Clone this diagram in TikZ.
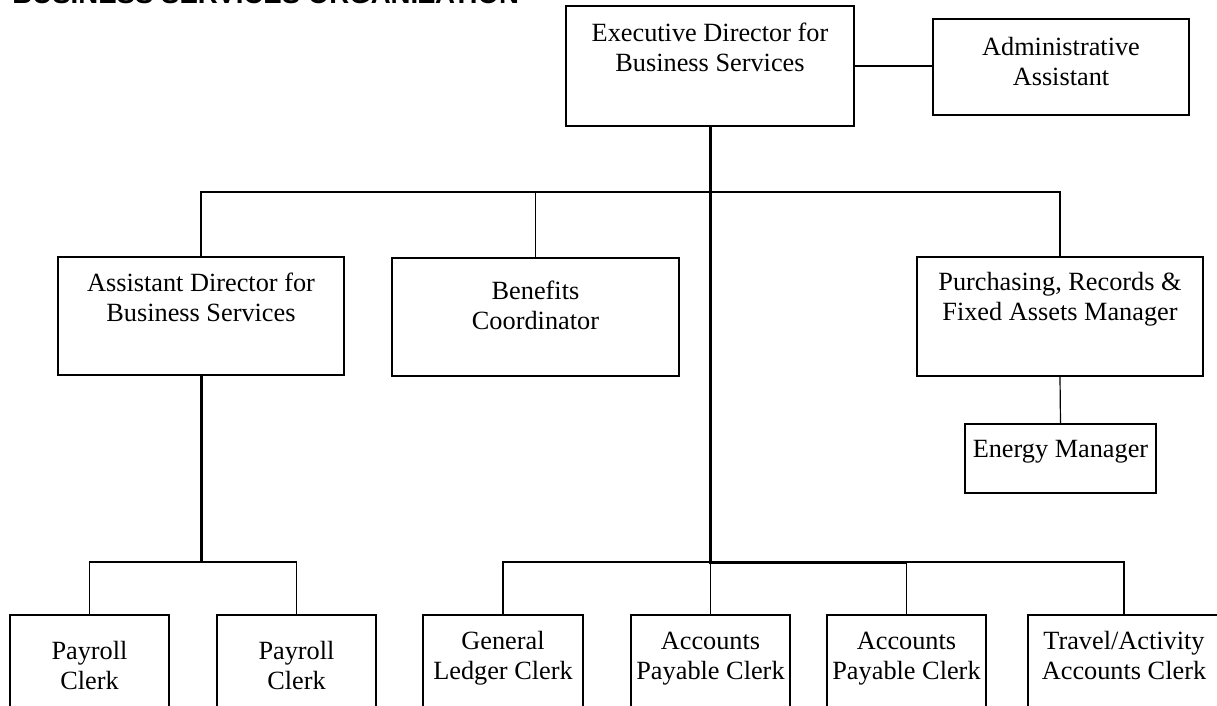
\documentclass[tikz,border=0pt]{standalone}
\usepackage{fontspec}
\setmainfont{Liberation Serif}
\newfontfamily\titlefont{Liberation Sans}
\begin{document}
\begin{tikzpicture}[x=0.5pt,y=-0.5pt,
  box/.style={draw=black,line width=0.6pt,rectangle,inner sep=0pt,fill=white},
  boxsize/.style n args={2}{minimum width={#1*0.5pt},minimum height={#2*0.5pt}},
  lbl/.style={font=\fontsize{13.15}{15}\selectfont,align=center,inner sep=0pt,anchor=base},
  link/.style={draw=black,line width=0.6pt},
  trunk/.style={draw=black,line width=1.5pt}]
\clip (0,0) rectangle (1217,706);
\fill[white] (0,0) rectangle (1217,706);

% heading, its upper part runs off the page
\node[font=\titlefont\bfseries\fontsize{13.8}{16}\selectfont,anchor=base west,inner sep=0pt]
  (title) at (12,4) {BUSINESS SERVICES ORGANIZATION};

% boxes
\node[box,boxsize={288}{120}] (exec)   at (710,66)     {};
\node[box,boxsize={256}{96}]  (admin)  at (1061,67)    {};
\node[box,boxsize={286}{118}] (asst)   at (201,316)    {};
\node[box,boxsize={287}{118}] (benef)  at (535.5,317)  {};
\node[box,boxsize={286}{119}] (purch)  at (1060,316.5) {};
\node[box,boxsize={191}{69}]  (energy) at (1060.5,458.5){};
\node[box,boxsize={159}{115}] (pay1)   at (89.5,672.5) {};
\node[box,boxsize={159}{115}] (pay2)   at (296.5,672.5){};
\node[box,boxsize={160}{115}] (gl)     at (503,672.5)  {};
\node[box,boxsize={159}{115}] (ap1)    at (710.5,672.5){};
\node[box,boxsize={159}{115}] (ap2)    at (906.5,672.5){};
\node[box,boxsize={192}{115}] (travel) at (1124,672.5) {};

% box texts, placed by the baseline of their last line
\node[lbl] (execT)   at ([yshift=-33pt]exec.north)     {Executive Director for\\Business Services};
\node[lbl] (adminT)  at ([yshift=-33.5pt]admin.north)  {Administrative\\Assistant};
\node[lbl] (asstT)   at ([yshift=-32.5pt]asst.north)   {Assistant Director for\\Business Services};
\node[lbl] (benefT)  at ([yshift=-36pt]benef.north)    {Benefits\\Coordinator};
\node[lbl] (purchT)  at ([yshift=-32pt]purch.north)    {Purchasing, Records \&\\Fixed Assets Manager};
\node[lbl] (energyT) at ([yshift=-17pt]energy.north)   {Energy Manager};
\node[lbl] (pay1T)   at ([yshift=-37.5pt]pay1.north)   {Payroll\\Clerk};
\node[lbl] (pay2T)   at ([yshift=-37.5pt]pay2.north)   {Payroll\\Clerk};
\node[lbl] (glT)     at ([yshift=-32.5pt]gl.north)     {General\\Ledger Clerk};
\node[lbl] (ap1T)    at ([yshift=-32.5pt]ap1.north)    {Accounts\\Payable Clerk};
\node[lbl] (ap2T)    at ([yshift=-32.5pt]ap2.north)    {Accounts\\Payable Clerk};
\node[lbl] (travelT) at ([yshift=-32.5pt]travel.north) {Travel/Activity\\Accounts Clerk};

% junctions of the connector buses
\coordinate (upbus) at (710,192);
\coordinate (lowbus) at (710,562);

% connectors
\draw[link] (exec.east) -- (exec.east -| admin.west);
\draw[link] (asst.north) -- (asst.north |- upbus) -- (purch.north |- upbus) -- (purch.north);
\draw[link] (benef.north) -- (benef.north |- upbus);
\draw[link] (purch.south) -- (energy.north);
\draw[link] (pay1.north) -- (pay1.north |- lowbus) -- (pay2.north |- lowbus) -- (pay2.north);
\draw[link] (gl.north) -- (gl.north |- lowbus) -- (travel.north |- lowbus) -- (travel.north);
\draw[link] (ap1.north) -- (ap1.north |- lowbus);
\draw[link] (ap2.north) -- (ap2.north |- lowbus);
\draw[trunk] (exec.south) -- (lowbus) -- (ap2.north |- lowbus);
\draw[trunk] (asst.south) -- (asst.south |- lowbus);
\end{tikzpicture}
\end{document}
